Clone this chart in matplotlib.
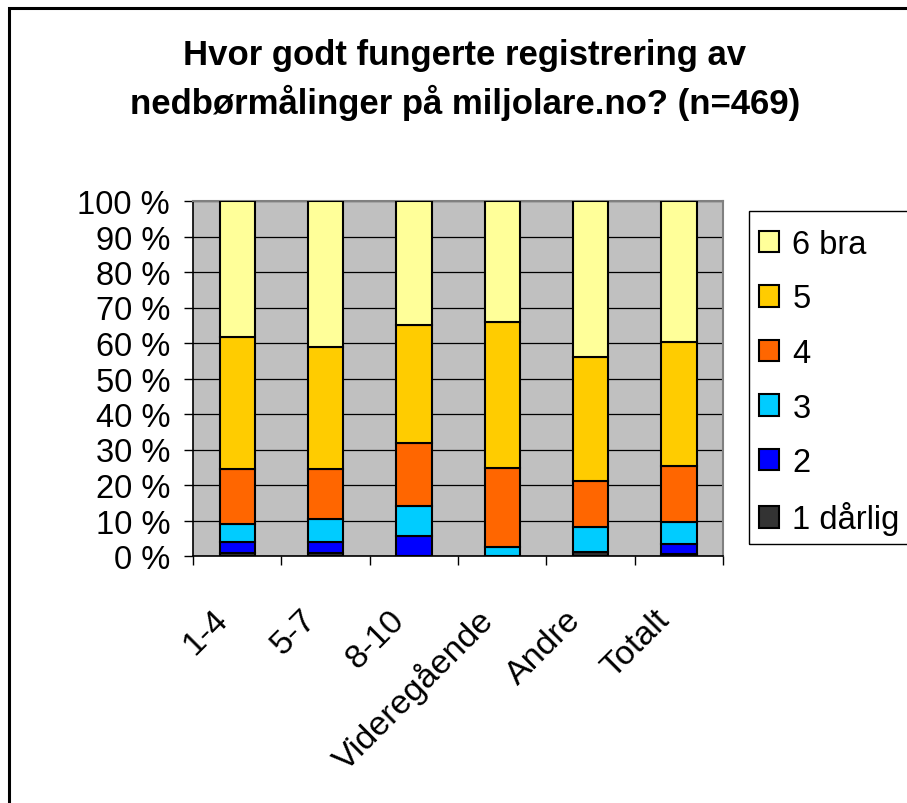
import numpy as np
import matplotlib
matplotlib.use('Agg')
import matplotlib.pyplot as plt
import matplotlib.patches as patches
from matplotlib.transforms import ScaledTranslation

plt.rcParams['font.family'] = ['Liberation Sans', 'DejaVu Sans']

# data (percent of answers per group)
categories = ['1-4', '5-7', '8-10', 'Videregående', 'Andre', 'Totalt']
levels = ['1 dårlig', '2', '3', '4', '5', '6 bra']
r1 = [0.8, 0.8, 0.0, 0.0, 1.1, 0.7]
r2 = [3.2, 3.2, 5.5, 0.0, 0.0, 2.8]
r3 = [5.0, 6.4, 8.5, 2.6, 7.2, 6.2]
r4 = [15.5, 14.1, 17.8, 22.1, 12.8, 15.7]
r5 = [37.1, 34.3, 33.4, 41.2, 34.9, 34.8]
r6 = [38.4, 41.2, 34.8, 34.1, 44.0, 39.8]
series = [r1, r2, r3, r4, r5, r6]
colors = ['#333333', '#0000FF', '#00CCFF', '#FF6600', '#FFCC00', '#FFFF99']

W, H = 907, 804
fig = plt.figure(figsize=(W / 100, H / 100), dpi=100)
ax = fig.add_axes([193 / W, 1 - 557 / H, 530 / W, 355 / H])
ax.set_facecolor('#C0C0C0')

x = np.arange(len(categories))
bottom = np.zeros(len(categories))
bars = []
for vals, col, lab in zip(series, colors, levels):
    b = ax.bar(x, vals, 0.4, bottom=bottom, color=col, edgecolor='black',
               linewidth=1.5, label=lab, zorder=3)
    bars.append(b)
    bottom += np.array(vals)

ax.set_xlim(-0.5, len(categories) - 0.5)
ax.set_ylim(0, 100)
ax.set_yticks(np.arange(0, 101, 10))
ax.set_yticklabels([f'{v} %' for v in range(0, 101, 10)], fontsize=23.5)
ax.yaxis.grid(True, color='black', linewidth=0.9, zorder=1)
ax.set_axisbelow(True)
ax.tick_params(axis='y', length=6.5, width=1, direction='out', pad=10)

ax.set_xticks(x)
ax.set_xticklabels(categories, fontsize=24.5, rotation=45, ha='right',
                   va='center', rotation_mode='anchor')
ax.set_xticks(np.arange(-0.5, len(categories)), minor=True)
ax.tick_params(axis='x', which='major', length=0, pad=42)
ax.tick_params(axis='x', which='minor', length=6.5, width=1, direction='out')
for lbl in ax.get_xticklabels():
    lbl.set_transform(lbl.get_transform() + ScaledTranslation(-0.14, 0, fig.dpi_scale_trans))

for s in ['left', 'bottom']:
    ax.spines[s].set_color('black')
    ax.spines[s].set_linewidth(1.2)
for s in ['top', 'right']:
    ax.spines[s].set_color('#808080')
    ax.spines[s].set_linewidth(1.5)

fig.text(465 / W, 1 - 55 / H, 'Hvor godt fungerte registrering av',
         ha='center', va='center', fontsize=25, fontweight='bold')
fig.text(465 / W, 1 - 103 / H, 'nedbørmålinger på miljolare.no? (n=469)',
         ha='center', va='center', fontsize=25, fontweight='bold')

handles = bars[::-1]
leg = fig.legend(handles, levels[::-1], loc='upper left',
                 bbox_to_anchor=(759 / W, 1 - 230 / H), frameon=False,
                 fontsize=23.5, handlelength=0.62, handleheight=0.62,
                 handletextpad=0.4, labelspacing=0.72, borderpad=0,
                 borderaxespad=0)

# legend box and outer chart border, both running off the figure edge
fig.patches.append(patches.Rectangle((749 / W, 1 - 545 / H), 0.5, 333 / H,
                                     transform=fig.transFigure, fill=False,
                                     edgecolor='black', linewidth=1.0))
fig.patches.append(patches.Rectangle((9 / W, -0.2), 1.5, 1.2 - 9 / H,
                                     transform=fig.transFigure, fill=False,
                                     edgecolor='black', linewidth=2.2))

fig.savefig('out.png', dpi=100)
